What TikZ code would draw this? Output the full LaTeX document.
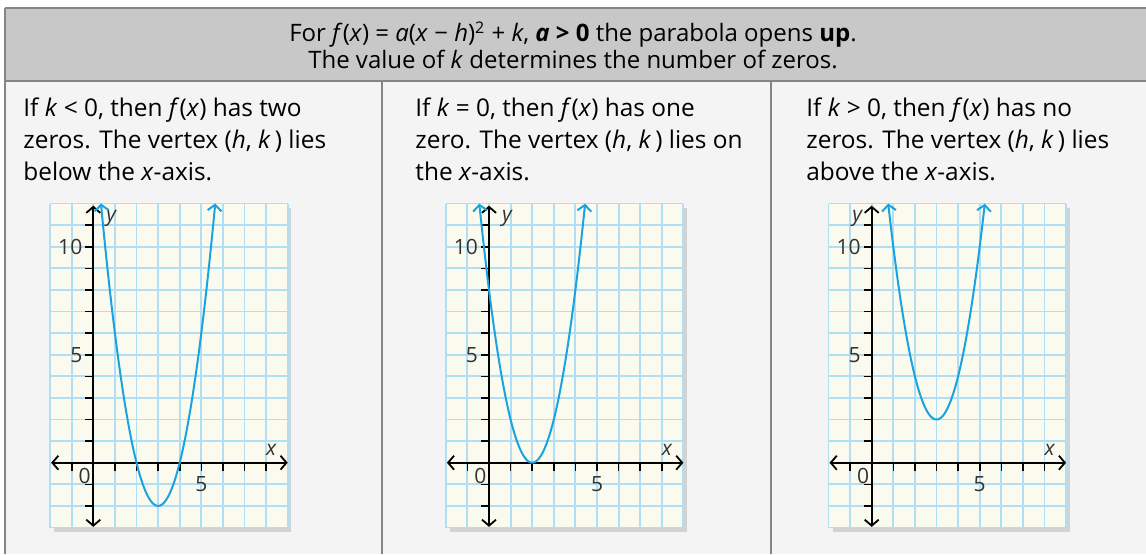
\documentclass[tikz,border=0pt]{standalone}
\usepackage{fontspec}
\setmainfont{Open Sans}
\usetikzlibrary{arrows.meta}
\definecolor{headgray}{HTML}{C8C8C8}
\definecolor{rulegray}{HTML}{858585}
\definecolor{bodybg}{HTML}{F4F4F4}
\definecolor{paper}{HTML}{FAFAEE}
\definecolor{gridblue}{HTML}{B0DFF5}
\definecolor{shadowgray}{HTML}{D2D2D2}
\definecolor{curveblue}{HTML}{1BA3E0}
\definecolor{labelgray}{HTML}{333333}
\tikzset{
  headtext/.style={align=center, inner sep=0pt, font=\fontsize{12}{13.2}\selectfont},
  paneltext/.style={anchor=north west, align=left, inner sep=0pt,
    font=\fontsize{12.2}{16.15}\selectfont},
  frame/.style={draw=rulegray, line width=1pt},
  gridline/.style={draw=gridblue, line width=0.95pt},
  axis/.style={{Straight Barb[length=3pt,width=7pt]}-{Straight Barb[length=3pt,width=7pt]},
    line width=0.9pt, black},
  curve/.style={{Straight Barb[length=3pt,width=7pt]}-{Straight Barb[length=3pt,width=7pt]},
    line width=1pt, curveblue},
  ticklabel/.style={font=\fontsize{10.5}{12}\selectfont, text=labelgray, inner sep=1pt}
}

\begin{document}
\begin{tikzpicture}[x=0.5pt, y=-0.5pt]
  \useasboundingbox (0,0) rectangle (1146,554);
  % table frame
  \fill[bodybg] (5,81) rectangle (1146,554);
  \fill[headgray] (5,8) rectangle (1146,81);
  \draw[frame] (5,8) -- (1146,8);
  \draw[frame] (5,81) -- (1146,81);
  \draw[frame] (5,8) -- (5,554);
  \draw[frame] (382,81) -- (382,554);
  \draw[frame] (771,81) -- (771,554);

  \node[headtext] (title) at (573,45)
    {For \textit{f}(\textit{x}) = \textit{a}(\textit{x} − \textit{h})\textsuperscript{2} + \textit{k}, \textbf{\textit{a} > 0} the parabola opens \textbf{up}.\\
     The value of \textit{k} determines the number of zeros.};

  \node[paneltext] (left) at (23,97)
    {If \textit{k} < 0, then \textit{f}(\textit{x}) has two\\
     zeros. The vertex (\textit{h}, \textit{k}\,) lies\\
     below the \textit{x}-axis.};
  \node[paneltext] (mid) at (415,97)
    {If \textit{k} = 0, then \textit{f}(\textit{x}) has one\\
     zero. The vertex (\textit{h}, \textit{k}\,) lies on\\
     the \textit{x}-axis.};
  \node[paneltext] (right) at (806,97)
    {If \textit{k} > 0, then \textit{f}(\textit{x}) has no\\
     zeros. The vertex (\textit{h}, \textit{k}\,) lies\\
     above the \textit{x}-axis.};

  % the three graphs: origin, vertex (h,k), domain, side of y label
  \foreach \ox/\h/\k/\xa/\xb/\yx/\n in {93.3/3/-2/0.354/5.646/0.85/a,
                                          489/2/0/-0.449/4.449/0.85/b,
                                          871.7/3/2/0.764/5.236/-0.65/c}{
    \begin{scope}[shift={(\ox,462.7)}, x=10.8pt, y=10.8pt]
      \fill[shadowgray] (-1.8,-3.2) rectangle (9.17,11.8);
      \fill[paper] (-2,-3) rectangle (9,12);
      \draw[gridline, step=10.8pt] (-2,-3) grid (9,12);
      \foreach \t in {-1,1,2,...,8}
        \draw[line width=0.8pt] (\t,0) -- (\t,-0.38);
      \foreach \t in {-2,-1,1,2,...,11}
        \draw[line width=0.8pt] (0,\t) -- (-0.38,\t);
      \draw[axis] (-1.95,0) -- (9,0);
      \draw[axis] (0,-2.97) -- (0,11.9);
      \node[ticklabel, anchor=east] (ten-\n) at (-0.4,10) {10};
      \node[ticklabel, anchor=east] (five-\n) at (-0.4,5) {5};
      \node[ticklabel] (zero-\n) at (-0.4,-0.62) {0};
      \node[ticklabel] (xfive-\n) at (5,-1.0) {5};
      \node[ticklabel] (xlab-\n) at (8.25,0.6) {\textit{x}};
      \node[ticklabel] (ylab-\n) at (\yx,11.3) {\textit{y}};
      \draw[curve, domain=\xa:\xb, samples=80, smooth]
        plot (\x, {2*(\x-\h)^2+\k});
    \end{scope}
  }
\end{tikzpicture}
\end{document}
